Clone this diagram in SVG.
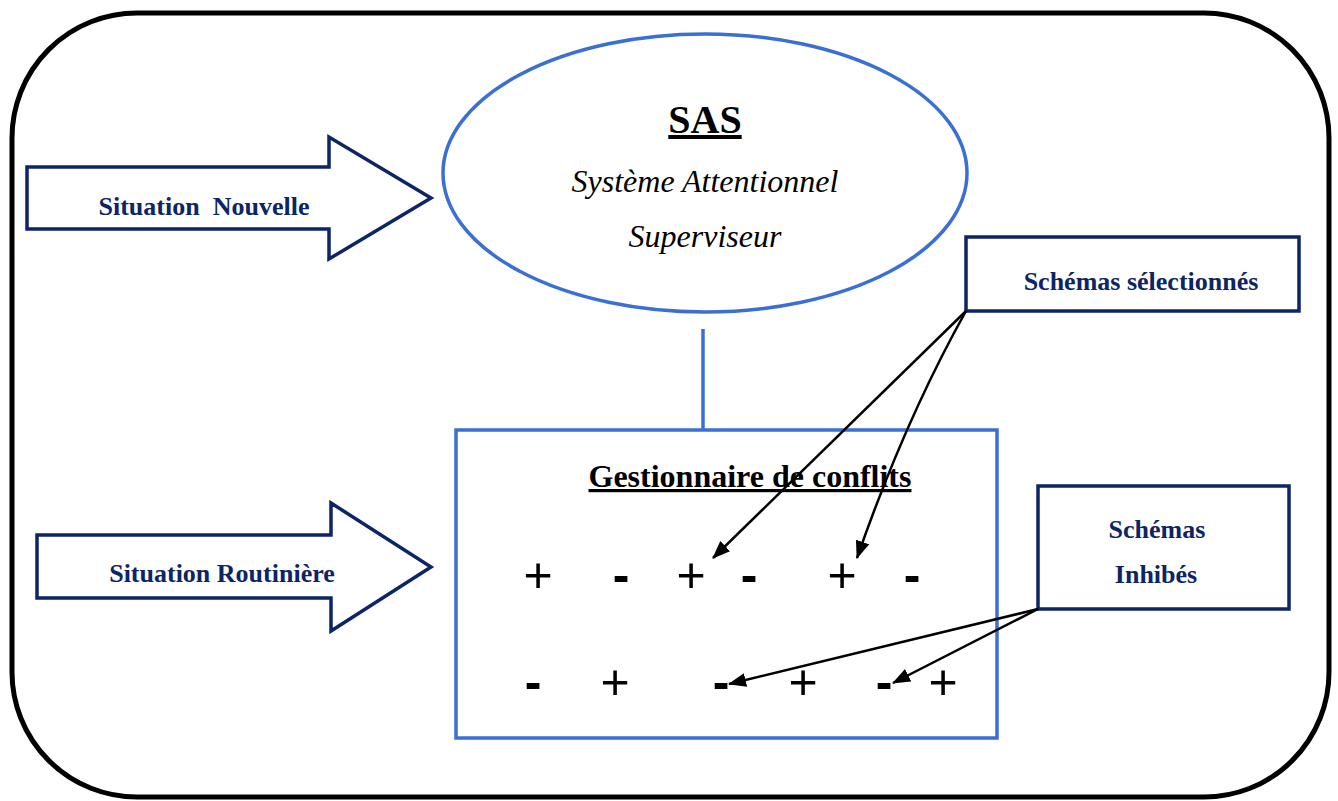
<svg xmlns="http://www.w3.org/2000/svg" width="1338" height="801" viewBox="0 0 1338 801">
<defs>
<marker id="ah" markerUnits="userSpaceOnUse" markerWidth="18" markerHeight="14" refX="17" refY="7" orient="auto">
<path d="M0,0 L18,7 L0,14 Z" fill="#000"/>
</marker>
</defs>
<style>
.nv{fill:#fff;stroke:#0b2566;stroke-width:3.5}
.bl{fill:#fff;stroke:#3a6fd4;stroke-width:3.5}
.lbl{font-family:"Liberation Serif",serif;font-weight:bold;font-size:26px;fill:#0b2566;text-anchor:middle}
.it{font-family:"Liberation Serif",serif;font-style:italic;font-size:32px;fill:#000;text-anchor:middle}
.pl{font-family:"Liberation Sans",sans-serif;font-size:50px;fill:#000;text-anchor:middle}
.mi{font-family:"Liberation Sans",sans-serif;font-weight:bold;font-size:50px;fill:#000;text-anchor:middle}
.cn{fill:none;stroke:#000;stroke-width:2.5}
</style>
<rect x="12" y="13" width="1317" height="784" rx="125" ry="125" fill="#fff" stroke="#000" stroke-width="5"/>

<g id="situation-nouvelle">
<path class="nv" d="M27,167 L329,167 L329,137 L431,198 L329,259 L329,229 L27,229 Z"/>
<text class="lbl" x="204" y="215" xml:space="preserve">Situation  Nouvelle</text>
</g>

<g id="situation-routiniere">
<path class="nv" d="M37,535 L331,535 L331,503 L431,567 L331,631 L331,598 L37,598 Z"/>
<text class="lbl" x="222" y="582">Situation Routinière</text>
</g>

<g id="sas">
<ellipse class="bl" cx="705" cy="173" rx="262" ry="139"/>
<text x="705" y="133" font-family="Liberation Serif,serif" font-weight="bold" font-size="40" text-anchor="middle" text-decoration="underline">SAS</text>
<text class="it" x="705" y="192">Système Attentionnel</text>
<text class="it" x="705" y="247">Superviseur</text>
</g>

<g id="gestionnaire">
<rect class="bl" x="456" y="430" width="541" height="308"/>
<text x="750" y="487" font-family="Liberation Serif,serif" font-weight="bold" font-size="32" text-anchor="middle" text-decoration="underline">Gestionnaire de conflits</text>
<text class="pl" x="538" y="592">+</text>
<text class="mi" x="621" y="592">-</text>
<text class="pl" x="691" y="592">+</text>
<text class="mi" x="749" y="592">-</text>
<text class="pl" x="842" y="592">+</text>
<text class="mi" x="912" y="592">-</text>
<text class="mi" x="533" y="699">-</text>
<text class="pl" x="615" y="699">+</text>
<text class="mi" x="721" y="699">-</text>
<text class="pl" x="803" y="699">+</text>
<text class="mi" x="884" y="699">-</text>
<text class="pl" x="943" y="699">+</text>
</g>

<g id="schemas-selectionnes">
<rect class="nv" x="966" y="237" width="333" height="74"/>
<text class="lbl" x="1141" y="290">Schémas sélectionnés</text>
</g>

<g id="schemas-inhibes">
<rect class="nv" x="1038" y="486" width="251" height="123"/>
<text class="lbl" x="1157" y="538">Schémas</text>
<text class="lbl" x="1156" y="583">Inhibés</text>
</g>

<g id="connectors">
<line x1="703" y1="329" x2="703" y2="430" stroke="#3a6fd4" stroke-width="3.5"/>
<path class="cn" d="M966,311 L713,558" marker-end="url(#ah)"/>
<path class="cn" d="M966,311 Q905,420 857,558" marker-end="url(#ah)"/>
<path class="cn" d="M1038,609 L729,684" marker-end="url(#ah)"/>
<path class="cn" d="M1038,609 L893,683" marker-end="url(#ah)"/>
</g>
</svg>
